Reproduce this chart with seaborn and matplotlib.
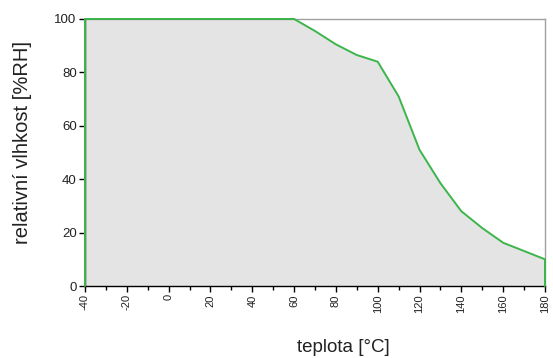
import numpy as np
import pandas as pd
import seaborn as sns
import matplotlib.pyplot as plt
from matplotlib.ticker import MultipleLocator

# temperature [°C] and relative humidity [%RH] along the boundary
teplota = [-40, -40, 60, 70, 80, 90, 100, 110, 120, 130, 140, 150, 160, 180, 180]
vlhkost = [0, 100, 100, 95.5, 90.5, 86.5, 84, 71, 51, 38.5, 28, 21.7, 16.2, 10, 0]
x_ticks = list(range(-40, 181, 20))
y_ticks = [0, 20, 40, 60, 80, 100]

df = pd.DataFrame({"teplota": teplota, "vlhkost": vlhkost})

sns.set_style("white")
plt.rcParams["font.family"] = ["Liberation Sans", "DejaVu Sans"]

fig = plt.figure(figsize=(5.53, 3.58), dpi=100)
ax = fig.add_axes([0.1537, 0.2011, 0.8318, 0.7459])

ax.fill_between(df["teplota"], df["vlhkost"], color="#e4e4e4", linewidth=0, zorder=1)
sns.lineplot(data=df, x="teplota", y="vlhkost", sort=False, estimator=None,
             color="#3cb54a", linewidth=1.4, ax=ax)
for ln in ax.lines:
    ln.set_clip_on(False)
    ln.set_zorder(5)

ax.set_xlim(-40, 180)
ax.set_ylim(0, 100)
ax.set_xticks(x_ticks)
ax.set_xticklabels([str(t) for t in x_ticks], rotation=90, fontsize=8, color="#222222")
ax.set_yticks(y_ticks)
ax.set_yticklabels([str(t) for t in y_ticks], fontsize=9.5, color="#222222")
ax.xaxis.set_minor_locator(MultipleLocator(10))
ax.tick_params(axis="both", which="major", direction="out", length=4, width=1,
               color="black", bottom=True, left=True, pad=2)
ax.tick_params(axis="x", which="minor", direction="out", length=3, width=1,
               color="black", bottom=True)

for side in ["left", "bottom"]:
    ax.spines[side].set_color("black")
    ax.spines[side].set_linewidth(1)
for side in ["top", "right"]:
    ax.spines[side].set_color("#a0a0a0")
    ax.spines[side].set_linewidth(1)

ax.set_xlabel("")
ax.set_ylabel("")
fig.text(343 / 553, 1 - 348 / 358, "teplota [°C]", fontsize=13.5, ha="center",
         va="center", color="#222222")
fig.text(23 / 553, 1 - 143 / 358, "relativní vlhkost [%RH]", fontsize=14.5, rotation=90,
         ha="center", va="center", color="#222222")

fig.savefig("out.png", dpi=100)
